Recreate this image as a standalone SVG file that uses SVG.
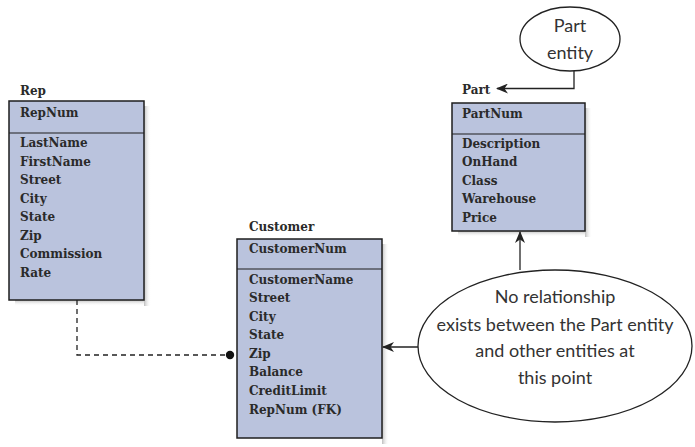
<svg xmlns="http://www.w3.org/2000/svg" width="695" height="447" viewBox="0 0 695 447">
<style>
.box{fill:#bac3dd;stroke:#1e1e1e;stroke-width:1.5}
.div{stroke:#1e1e1e;stroke-width:1.2}
.t{font-family:"DejaVu Serif","Liberation Serif",serif;font-weight:bold;font-size:12px;fill:#2a2a2a}
.note{font-family:"Lato","Open Sans","Liberation Sans",sans-serif;font-size:18px;fill:#333;text-anchor:middle}
.line{stroke:#222;stroke-width:1.3;fill:none}
.ell{fill:#fff;stroke:#222;stroke-width:1.3}
</style>
<defs>
<marker id="arr" viewBox="0 0 12 10" refX="11" refY="5" markerWidth="12" markerHeight="10" markerUnits="userSpaceOnUse" orient="auto">
<path d="M0,0 L12,5 L0,10 L3.5,5 z" fill="#222"/>
</marker>
<linearGradient id="sh" x1="0" y1="0" x2="1" y2="0">
<stop offset="0" stop-color="#bdbdbd"/>
<stop offset="1" stop-color="#ffffff" stop-opacity="0"/>
</linearGradient>
<linearGradient id="shv" x1="0" y1="0" x2="0" y2="1">
<stop offset="0" stop-color="#bdbdbd"/>
<stop offset="1" stop-color="#ffffff" stop-opacity="0"/>
</linearGradient>
</defs>

<g id="rep">
<rect x="144" y="106" width="7" height="200" fill="url(#sh)"/>
<rect x="15" y="300" width="129" height="6" fill="url(#shv)"/>
<text class="t" x="20" y="95">Rep</text>
<rect class="box" x="9" y="101" width="135" height="199"/>
<line class="div" x1="9" y1="133" x2="144" y2="133"/>
<text class="t" x="20" y="117">RepNum</text>
<text class="t" x="20" y="147">LastName</text>
<text class="t" x="20" y="165.5">FirstName</text>
<text class="t" x="20" y="184">Street</text>
<text class="t" x="20" y="202.5">City</text>
<text class="t" x="20" y="221">State</text>
<text class="t" x="20" y="239.5">Zip</text>
<text class="t" x="20" y="258">Commission</text>
<text class="t" x="20" y="276.5">Rate</text>
</g>

<g id="customer">
<rect x="382" y="244" width="7" height="200" fill="url(#sh)"/>
<text class="t" x="249" y="231">Customer</text>
<rect class="box" x="237" y="239" width="145" height="199"/>
<line class="div" x1="237" y1="269" x2="382" y2="269"/>
<text class="t" x="249" y="253">CustomerNum</text>
<text class="t" x="249" y="284">CustomerName</text>
<text class="t" x="249" y="302">Street</text>
<text class="t" x="249" y="321">City</text>
<text class="t" x="249" y="339">State</text>
<text class="t" x="249" y="358">Zip</text>
<text class="t" x="249" y="376">Balance</text>
<text class="t" x="249" y="395">CreditLimit</text>
<text class="t" x="249" y="414">RepNum (FK)</text>
</g>

<g id="part">
<rect x="585" y="108" width="7" height="129" fill="url(#sh)"/>
<rect x="458" y="231" width="127" height="6" fill="url(#shv)"/>
<text class="t" x="462" y="94">Part</text>
<rect class="box" x="452" y="103" width="133" height="128"/>
<line class="div" x1="452" y1="134" x2="585" y2="134"/>
<text class="t" x="462" y="118">PartNum</text>
<text class="t" x="462" y="148">Description</text>
<text class="t" x="462" y="166">OnHand</text>
<text class="t" x="462" y="185">Class</text>
<text class="t" x="462" y="203">Warehouse</text>
<text class="t" x="462" y="222">Price</text>
</g>

<g id="part-entity-note">
<ellipse class="ell" cx="570" cy="39" rx="50" ry="32"/>
<text class="note" x="570" y="32">Part</text>
<text class="note" x="570" y="59">entity</text>
</g>

<g id="no-relationship-note">
<ellipse class="ell" cx="555" cy="346" rx="137" ry="76"/>
<text class="note" x="555" y="303">No relationship</text>
<text class="note" x="555" y="331">exists between the Part entity</text>
<text class="note" x="555" y="357">and other entities at</text>
<text class="note" x="555" y="384">this point</text>
</g>

<g id="connectors">
<path d="M77,300 V355 H226" stroke="#222" stroke-width="1.3" fill="none" stroke-dasharray="5,4"/>
<circle cx="230" cy="355" r="4.2" fill="#111"/>
<path class="line" d="M574,71 V88.5 H497" marker-end="url(#arr)"/>
<path class="line" d="M520,270 V232" marker-end="url(#arr)"/>
<path class="line" d="M418,347 H383" marker-end="url(#arr)"/>
</g>
</svg>
